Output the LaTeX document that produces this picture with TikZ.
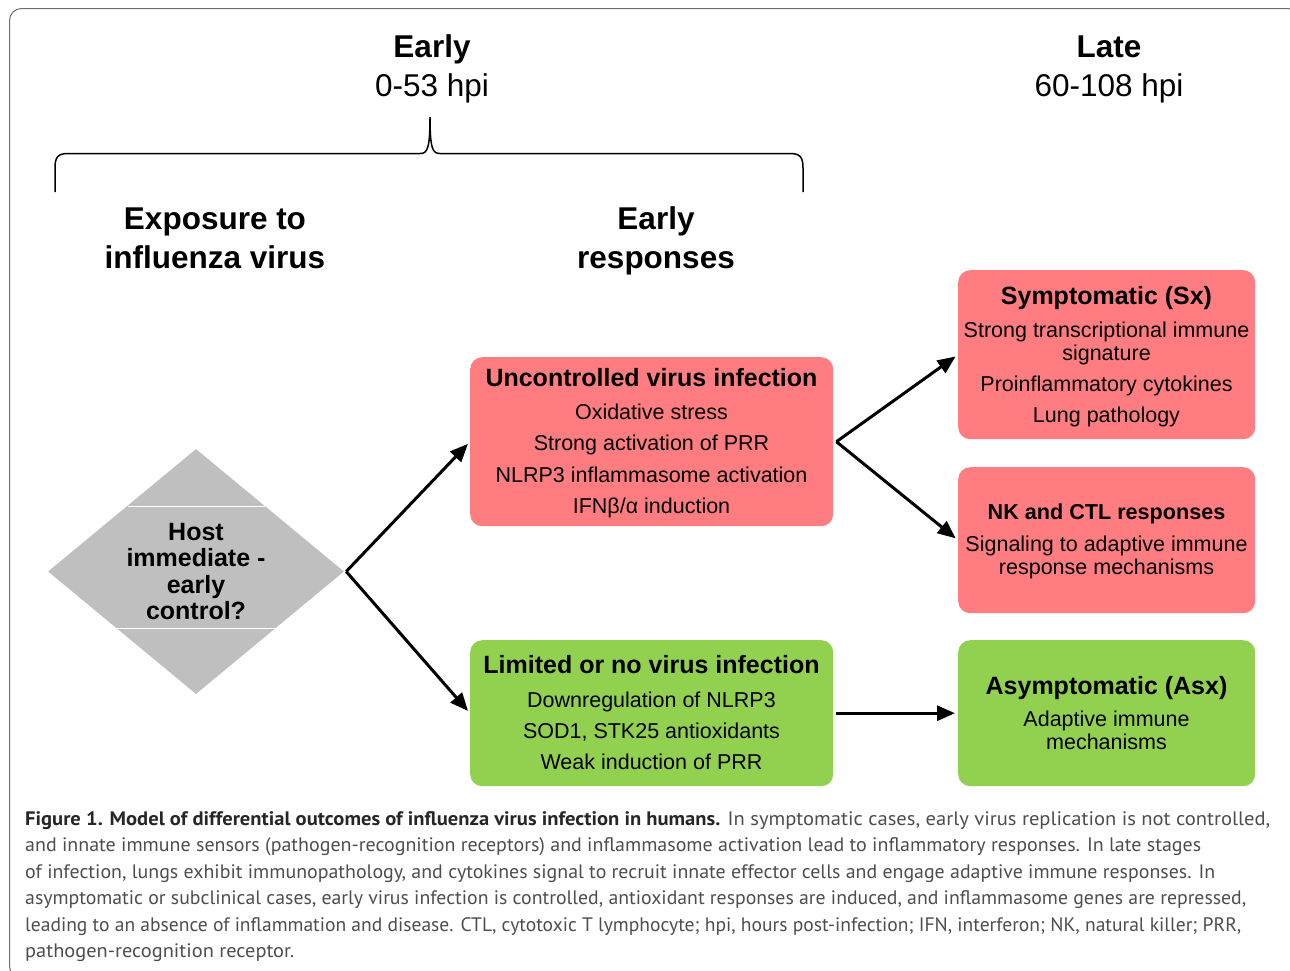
\documentclass[tikz,border=0pt]{standalone}
\usepackage{fontspec}
\usepackage{graphicx}
\setmainfont{Liberation Sans}
\newfontfamily\capfont{PT Sans}
\usetikzlibrary{shapes.geometric,arrows.meta}
\definecolor{redbox}{HTML}{FF7C80}
\definecolor{greenbox}{HTML}{92D050}
\definecolor{diagray}{HTML}{BFBFBF}
\definecolor{framegray}{HTML}{6E6E6E}
\definecolor{captext}{HTML}{4D4D4D}
\definecolor{capbold}{HTML}{262626}
\newcommand{\capline}[2]{\resizebox{#1pt}{\height}{#2}}
\begin{document}
\begin{tikzpicture}[x=1pt,y=-1pt,
  hdtxt/.style={font=\fontsize{31.5}{36}\selectfont\bfseries, anchor=base, inner sep=0},
  hdrtxt/.style={font=\fontsize{31.5}{36}\selectfont, anchor=base, inner sep=0},
  ttltxt/.style={font=\fontsize{25}{30}\selectfont\bfseries, anchor=base, inner sep=0},
  lntxt/.style={font=\fontsize{21.5}{26}\selectfont, anchor=base, inner sep=0},
  rbox/.style={rectangle, rounded corners=12pt, draw=none, inner sep=0, anchor=north west},
  redb/.style={rbox, fill=redbox},
  greenb/.style={rbox, fill=greenbox},
  arr/.style={-{Triangle[length=18pt,width=15pt]}, line width=3pt, shorten >=3pt},
  captxt/.style={font=\capfont\fontsize{19.5}{26}\selectfont, text=captext, anchor=base west, inner sep=0},
]
\useasboundingbox (0,0) rectangle (1290,970);
% frame
\draw[framegray, line width=1pt, rounded corners=12pt] (9.5,8.5) rectangle (1300,978);

% header texts
\node[hdtxt] (early) at (432,57.5) {Early};
\node[hdrtxt] (earlyh) at (432,96.5) {0-53 hpi};
\node[hdtxt] (late) at (1109,57.5) {Late};
\node[hdrtxt] (lateh) at (1109,96.5) {60-108 hpi};

% brace
\coordinate (bl) at (55,192);
\coordinate (btip) at (430,117);
\coordinate (br) at (803,192);
\draw[line width=1.5pt] (bl) -- (55,168) .. controls (55,157) and (58,153.5) .. (68,153.5)
  -- (420,153.5) .. controls (427,153.5) and (430,150) .. (btip)
  .. controls (430,150) and (433,153.5) .. (440,153.5)
  -- (790,153.5) .. controls (800,153.5) and (803,157) .. (803,168) -- (br);

\node[hdtxt] (exp1) at (215,229.5) {Exposure to};
\node[hdtxt] (exp2) at (215,268.5) {influenza virus};
\node[hdtxt] (er1) at (656,229.5) {Early};
\node[hdtxt] (er2) at (656,268.5) {responses};

% diamond
\node[diamond, fill=diagray, inner sep=0, minimum width=296pt, minimum height=245pt] (host) at (196,571.5) {};
\draw[white, line width=1pt] (127.5,506) -- (264.5,506);
\draw[white, line width=1pt] (116.5,628) -- (275.5,628);
\node[ttltxt] (h1) at (196,540) {Host};
\node[ttltxt] (h2) at (196,566.5) {immediate -};
\node[ttltxt] (h3) at (196,593) {early};
\node[ttltxt] (h4) at (196,619) {control?};

% boxes
\node[redb, minimum width=363pt, minimum height=169pt] (uvi) at (470,357) {};
\node[redb, minimum width=297pt, minimum height=169pt] (sx) at (958,270) {};
\node[redb, minimum width=297pt, minimum height=146pt] (nk) at (958,467) {};
\node[greenb, minimum width=363pt, minimum height=146pt] (lim) at (470,640) {};
\node[greenb, minimum width=297pt, minimum height=146pt] (asx) at (958,640) {};

% uncontrolled
\node[ttltxt] (u0) at (651.5,386) {Uncontrolled virus infection};
\node[lntxt] (u1) at (651.5,419.5) {Oxidative stress};
\node[lntxt] (u2) at (651.5,450.5) {Strong activation of PRR};
\node[lntxt] (u3) at (651.5,482) {NLRP3 inflammasome activation};
\node[lntxt] (u4) at (651.5,513.5) {IFN\symbol{"03B2}/\symbol{"03B1} induction};

% symptomatic
\node[ttltxt] (s0) at (1106.5,304) {Symptomatic (Sx)};
\node[lntxt] (s1) at (1106.5,337.5) {Strong transcriptional immune};
\node[lntxt] (s2) at (1106.5,360.5) {signature};
\node[lntxt] (s3) at (1106.5,391.5) {Proinflammatory cytokines};
\node[lntxt] (s4) at (1106.5,422.5) {Lung pathology};

% NK
\node[ttltxt, font=\fontsize{21.6}{26}\selectfont\bfseries] (n0) at (1106.5,519.5) {NK and CTL responses};
\node[lntxt] (n1) at (1106.5,551.5) {Signaling to adaptive immune};
\node[lntxt] (n2) at (1106.5,574.5) {response mechanisms};

% limited
\node[ttltxt] (l0) at (651.5,673) {Limited or no virus infection};
\node[lntxt] (l1) at (651.5,707.5) {Downregulation of NLRP3};
\node[lntxt] (l2) at (651.5,738.5) {SOD1, STK25 antioxidants};
\node[lntxt] (l3) at (651.5,769.5) {Weak induction of PRR};

% asymptomatic
\node[ttltxt] (a0) at (1106.5,694) {Asymptomatic (Asx)};
\node[lntxt] (a1) at (1106.5,726.5) {Adaptive immune};
\node[lntxt] (a2) at (1106.5,749.5) {mechanisms};

% arrows
\draw[arr] ([xshift=2pt]host.east) -- (uvi.west);
\draw[arr] ([xshift=2pt]host.east) -- (lim.west);
\draw[arr] ([xshift=3pt]uvi.east) -- (sx.west);
\draw[arr] ([xshift=3pt]uvi.east) -- (nk.west);
\draw[arr] ([xshift=3pt]lim.east) -- (asx.west);

% caption
\node[captxt] (c1) at (25,825) {\capline{1245}{{\bfseries\color{capbold}Figure 1. Model of differential outcomes of influenza virus infection in humans.} In symptomatic cases, early virus replication is not controlled,}};
\node[captxt] (c2) at (25,851.5) {\capline{1176}{and innate immune sensors (pathogen-recognition receptors) and inflammasome activation lead to inflammatory responses. In late stages}};
\node[captxt] (c3) at (25,878) {\capline{1190}{of infection, lungs exhibit immunopathology, and cytokines signal to recruit innate effector cells and engage adaptive immune responses. In}};
\node[captxt] (c4) at (25,904.5) {\capline{1221}{asymptomatic or subclinical cases, early virus infection is controlled, antioxidant responses are induced, and inflammasome genes are repressed,}};
\node[captxt] (c5) at (25,931) {\capline{1216}{leading to an absence of inflammation and disease. CTL, cytotoxic T lymphocyte; hpi, hours post-infection; IFN, interferon; NK, natural killer; PRR,}};
\node[captxt] (c6) at (25,957.5) {\capline{269}{pathogen-recognition receptor.}};
\end{tikzpicture}
\end{document}
